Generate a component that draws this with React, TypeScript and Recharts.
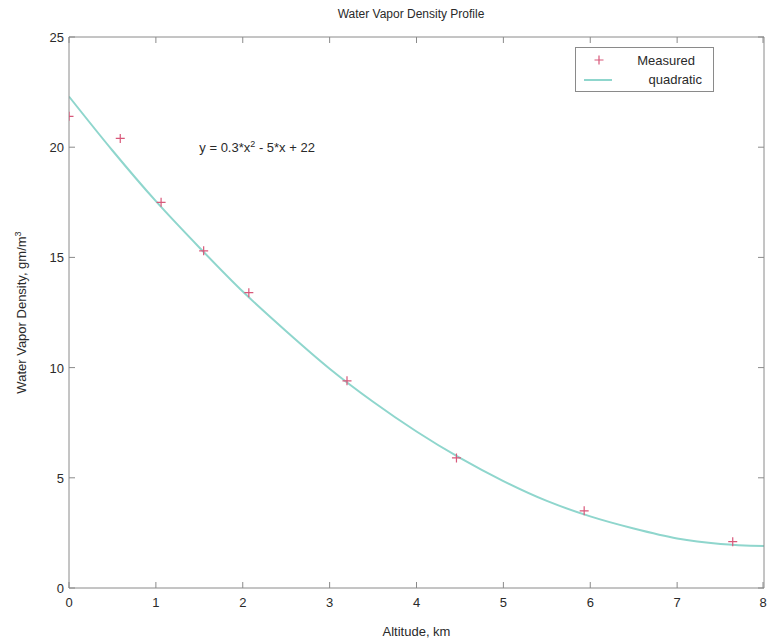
import { ComposedChart, Line, Scatter, XAxis, YAxis, Legend, ReferenceDot } from 'recharts';

// measured points
const measuredAlt = [0, 0.59, 1.06, 1.55, 2.07, 3.2, 4.46, 5.93, 7.64];
const measuredDensity = [21.4, 20.4, 17.5, 15.3, 13.4, 9.4, 5.9, 3.5, 2.1];

// fitted quadratic
const fitAlt = [0, 0.5, 1, 1.5, 2, 2.5, 3, 3.5, 4, 4.5, 5, 5.5, 6, 6.5, 7, 7.5, 8];
const fitDensity = [22.3, 19.85, 17.55, 15.45, 13.45, 11.65, 9.95, 8.45, 7.1, 5.9, 4.85, 3.95, 3.25, 2.7, 2.25, 2.0, 1.9];

const xTicks = [0, 1, 2, 3, 4, 5, 6, 7, 8];
const yTicks = [0, 5, 10, 15, 20, 25];

const FONT = 'Arial, "Liberation Sans", sans-serif';
const AXIS = '#8a8a8a';
const TEXT = '#2a2a2a';
const RED = '#d8587a';
const TEAL = '#8fd6cd';

const measured = measuredAlt.map((x, i) => ({ x, y: measuredDensity[i] }));
const fit = fitAlt.map((x, i) => ({ x, y: fitDensity[i] }));

const BottomTick = ({ x, y, payload }: any) => (
  <g>
    <line x1={x} x2={x} y1={y} y2={y - 6} stroke={AXIS} />
    <text x={x} y={y + 19} textAnchor="middle" fill={TEXT} fontSize={13} fontFamily={FONT}>{payload.value}</text>
  </g>
);
const LeftTick = ({ x, y, payload }: any) => (
  <g>
    <line x1={x} x2={x + 6} y1={y} y2={y} stroke={AXIS} />
    <text x={x - 5} y={y + 5} textAnchor="end" fill={TEXT} fontSize={13} fontFamily={FONT}>{payload.value}</text>
  </g>
);
const TopTick = ({ x, y }: any) => <line x1={x} x2={x} y1={y} y2={y + 6} stroke={AXIS} />;
const RightTick = ({ x, y }: any) => <line x1={x} x2={x - 6} y1={y} y2={y} stroke={AXIS} />;

const Plus = ({ cx, cy }: any) => (
  <path d={`M${cx - 4.5},${cy}H${cx + 4.5}M${cx},${cy - 4.5}V${cy + 4.5}`} stroke={RED} strokeWidth={1.2} fill="none" />
);

const LegendBox = () => (
  <svg width={139} height={45} style={{ display: 'block' }}>
    <rect x={0.5} y={0.5} width={138} height={44} fill="#fff" stroke={AXIS} />
    <path d="M19.5,13H28.5M24,8.5V17.5" stroke={RED} strokeWidth={1.2} />
    <text x={120} y={18} textAnchor="end" fill={TEXT} fontSize={13} fontFamily={FONT}>Measured</text>
    <line x1={9} x2={37} y1={33} y2={33} stroke={TEAL} strokeWidth={2} />
    <text x={127} y={37} textAnchor="end" fill={TEXT} fontSize={13} fontFamily={FONT}>quadratic</text>
  </svg>
);

const Equation = ({ viewBox }: any) => {
  const x = viewBox.x + viewBox.width / 2;
  const y = viewBox.y + viewBox.height / 2;
  return (
    <text x={x} y={y + 5} fill={TEXT} fontSize={13} fontFamily={FONT}>
      y = 0.3*x<tspan dy={-5} fontSize={9}>2</tspan><tspan dy={5}> - 5*x + 22</tspan>
    </text>
  );
};

const DensityLabel = ({ viewBox }: any) => {
  const x = viewBox.x - 13;
  const y = viewBox.y + viewBox.height / 2;
  return (
    <text x={x} y={y} transform={`rotate(-90, ${x}, ${y})`} textAnchor="middle" fill={TEXT} fontSize={13} fontFamily={FONT}>
      Water Vapor Density, gm/m<tspan dy={-5} fontSize={9}>3</tspan>
    </text>
  );
};

export default function App() {
  return (
    <div style={{ position: 'absolute', left: 0, top: 0, width: 767, height: 641, background: '#fff', fontFamily: FONT }}>
      <div style={{ position: 'absolute', left: 0, width: 822, top: 7, textAlign: 'center', fontSize: 12, color: TEXT, pointerEvents: 'none' }}>
        Water Vapor Density Profile
      </div>
      <ComposedChart width={767} height={641} margin={{ top: 36, right: 2, bottom: 23, left: 39 }}>
        <XAxis
          xAxisId="b" dataKey="x" type="number" domain={[0, 8]} ticks={xTicks} allowDataOverflow
          height={30} tickSize={0} tickMargin={0} axisLine={{ stroke: AXIS }} tick={<BottomTick />}
          label={{ value: 'Altitude, km', position: 'insideBottom', offset: -18, fill: TEXT, fontSize: 13, fontFamily: FONT }}
        />
        <XAxis
          xAxisId="t" orientation="top" dataKey="x" type="number" domain={[0, 8]} ticks={xTicks} allowDataOverflow
          height={1} tickSize={0} tickMargin={0} axisLine={{ stroke: AXIS }} tick={<TopTick />}
        />
        <YAxis
          yAxisId="l" dataKey="y" type="number" domain={[0, 25]} ticks={yTicks} allowDataOverflow
          width={30} tickSize={0} tickMargin={0} axisLine={{ stroke: AXIS }} tick={<LeftTick />}
          label={<DensityLabel />}
        />
        <YAxis
          yAxisId="r" orientation="right" dataKey="y" type="number" domain={[0, 25]} ticks={yTicks} allowDataOverflow
          width={1} tickSize={0} tickMargin={0} axisLine={{ stroke: AXIS }} tick={<RightTick />}
        />
        <Line
          xAxisId="b" yAxisId="l" data={fit} dataKey="y" type="monotone" stroke={TEAL} strokeWidth={2}
          dot={false} activeDot={false} isAnimationActive={false} legendType="none"
        />
        <Scatter
          xAxisId="b" yAxisId="l" data={measured} dataKey="y" shape={<Plus />} isAnimationActive={false}
        />
        <Scatter
          xAxisId="t" yAxisId="r" data={measured} dataKey="y" shape={() => null} isAnimationActive={false}
        />
        <ReferenceDot xAxisId="b" yAxisId="l" x={1.5} y={20} r={0} label={<Equation />} />
        <Legend
          layout="vertical" align="center" verticalAlign="middle"
          wrapperStyle={{ position: 'absolute', left: 575, top: 47, width: 139, height: 45 }}
          content={() => <LegendBox />}
        />
      </ComposedChart>
    </div>
  );
}
